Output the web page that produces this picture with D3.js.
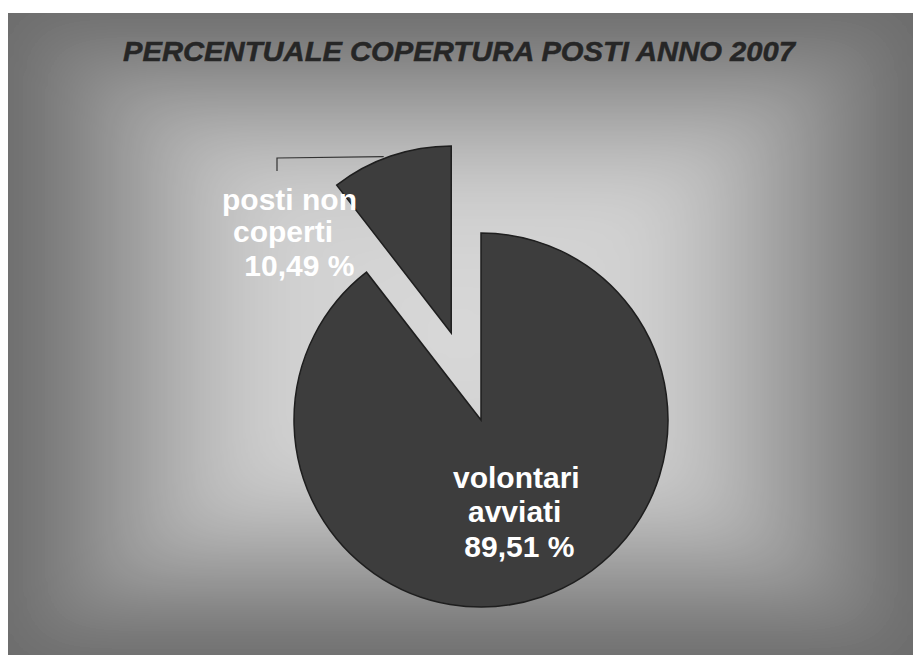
<!DOCTYPE html>
<html><head><meta charset="utf-8">
<script src="https://cdn.jsdelivr.net/npm/d3@7"></script>
<style>body{margin:0;background:#fff;}svg{display:block;}</style>
</head><body>
<svg id="chart" width="913" height="655"></svg>
<script>
const title = "PERCENTUALE COPERTURA POSTI ANNO 2007";
const categories = ["posti non coperti", "volontari avviati"];
const values = [10.49, 89.51];
const labelLines = [["posti non", "coperti", " 10,49 %"], ["volontari", "avviati", " 89,51 %"]];

const W = 913, H = 655;
const svg = d3.select("#chart");
const defs = svg.append("defs");

// rectangular "from centre" background gradient built from 4 triangles, softened by blur
const bx0 = 8, by0 = 13, bx1 = W, by1 = H;
const gcx = 460, gcy = 334;
const stops = [[0, "#d9d9d9"], [0.4, "#d0d0d0"], [0.55, "#bdbdbd"], [0.7, "#a2a2a2"], [0.85, "#868686"], [1, "#6c6c6c"]];
const ext = 200;
const ex0 = bx0 - ext, ey0 = by0 - ext * (gcy - by0) / (gcx - bx0), ex1 = bx1 + ext, ey1 = by1 + ext * (by1 - gcy) / (bx1 - gcx);
const tris = [
  {id: "gt", pts: [[ex0, ey0], [ex1, ey0], [gcx, gcy]], x2: gcx, y2: by0},
  {id: "gb", pts: [[ex0, ey1], [ex1, ey1], [gcx, gcy]], x2: gcx, y2: by1},
  {id: "gl", pts: [[ex0, ey0], [ex0, ey1], [gcx, gcy]], x2: bx0, y2: gcy},
  {id: "gr", pts: [[ex1, ey0], [ex1, ey1], [gcx, gcy]], x2: bx1, y2: gcy}
];
defs.append("clipPath").attr("id", "bgclip").append("rect")
  .attr("x", bx0).attr("y", by0).attr("width", bx1 - bx0).attr("height", by1 - by0);
defs.append("filter").attr("id", "soft").attr("x", -0.5).attr("y", -0.5).attr("width", 2).attr("height", 2)
  .append("feGaussianBlur").attr("stdDeviation", 28);
const bgOuter = svg.append("g").attr("clip-path", "url(#bgclip)");
bgOuter.append("rect").attr("x", bx0).attr("y", by0).attr("width", bx1 - bx0).attr("height", by1 - by0).attr("fill", "#9a9a9a");
const bg = bgOuter.append("g").attr("filter", "url(#soft)");
tris.forEach(t => {
  const lg = defs.append("linearGradient").attr("id", t.id).attr("gradientUnits", "userSpaceOnUse")
    .attr("x1", gcx).attr("y1", gcy).attr("x2", t.x2).attr("y2", t.y2);
  stops.forEach(([o, c]) => lg.append("stop").attr("offset", o).attr("stop-color", c));
  bg.append("polygon").attr("points", t.pts.map(p => p.join(",")).join(" "))
    .attr("fill", `url(#${t.id})`).attr("stroke", `url(#${t.id})`).attr("stroke-width", 1);
});

svg.append("text").attr("x", 459).attr("y", 61).attr("text-anchor", "middle")
  .attr("font-family", "Liberation Sans, Arial, sans-serif").attr("font-weight", "bold")
  .attr("font-style", "italic").attr("font-size", 28).attr("fill", "#262626")
  .attr("stroke", "#262626").attr("stroke-width", 0.5)
  .attr("textLength", 672).attr("lengthAdjust", "spacingAndGlyphs")
  .text(title);

const cx = 481, cy = 420, R = 187, explode = 92;
const pie = d3.pie().sort(null).value(d => d)
  .startAngle(-2 * Math.PI * values[0] / 100).endAngle(2 * Math.PI - 2 * Math.PI * values[0] / 100);
const arcs = pie(values);
const arc = d3.arc().innerRadius(0).outerRadius(R);

const gp = svg.append("g").attr("transform", `translate(${cx},${cy})`);
arcs.forEach((a, i) => {
  const mid = (a.startAngle + a.endAngle) / 2;
  const off = i === 0 ? explode : 0;
  const dx = off * Math.sin(mid), dy = -off * Math.cos(mid);
  const sg = gp.append("g").attr("transform", `translate(${dx},${dy})`);
  sg.append("path").attr("d", arc(a)).attr("fill", "#3d3d3d")
    .attr("stroke", "#1e1e1e").attr("stroke-width", 1.5);
  if (i === 0) {
    const ex = R * Math.sin(mid - 0.04), ey = -R * Math.cos(mid - 0.04);
    const lx = -cx + 277 - dx, ly = -cy + 158 - dy;
    sg.append("polyline")
      .attr("points", `${lx},${ly + 13} ${lx},${ly} ${ex},${ey - 2}`)
      .attr("fill", "none").attr("stroke", "#333").attr("stroke-width", 1.2);
  }
});

const fontAttrs = s => s.attr("font-family", "Liberation Sans, Arial, sans-serif")
  .attr("font-weight", "bold").attr("font-size", 30).attr("fill", "#ffffff");

const labelPos = [[[222, 210], [233, 242], [236, 276]], [[453, 488], [468, 522], [456, 557]]];
labelLines.forEach((lines, i) => {
  lines.forEach((t, j) => {
    svg.append("text").attr("x", labelPos[i][j][0]).attr("y", labelPos[i][j][1])
      .attr("xml:space", "preserve").style("white-space", "pre")
      .call(fontAttrs).text(t);
  });
});
</script>
</body></html>
